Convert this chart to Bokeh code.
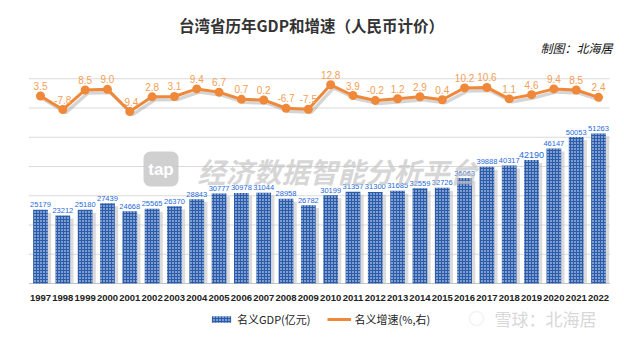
from bokeh.plotting import figure
from bokeh.models import (ColumnDataSource, Range1d, Label, Legend, LegendItem,
                          BoxAnnotation)
from bokeh.transform import dodge
from bokeh.core.properties import value
from bokeh.embed import file_html
from bokeh.resources import INLINE

# ---------------- data ----------------
years = ["1997", "1998", "1999", "2000", "2001", "2002", "2003", "2004", "2005",
         "2006", "2007", "2008", "2009", "2010", "2011", "2012", "2013", "2014",
         "2015", "2016", "2017", "2018", "2019", "2020", "2021", "2022"]
gdp = [25179, 23212, 25180, 27439, 24668, 25565, 26370, 28843, 30777, 30978,
       31044, 28958, 26782, 30199, 31357, 31300, 31685, 32559, 32726, 36063,
       39888, 40317, 42190, 46147, 50053, 51263]
growth = [3.5, -7.8, 8.5, 9.0, -9.4, 2.8, 3.1, 9.4, 6.7, 0.7, 0.2, -6.7, -7.5,
          12.8, 3.9, -0.2, 1.2, 2.9, 0.4, 10.2, 10.6, 1.1, 4.6, 9.4, 8.5, 2.4]
grid_ticks = [10000, 20000, 30000, 40000, 50000, 60000, 70000]
title_text = "台湾省历年GDP和增速（人民币计价）"
subtitle_text = "制图：北海居"
gdp_name = "名义GDP(亿元)"
growth_name = "名义增速(%,右)"
watermark_mid = "经济数据智能分析平台"
watermark_corner = "雪球：北海居"
highlight_year = "2019"

NUM = "Liberation Sans"
CJK = "Noto Sans CJK SC"

idx = list(range(len(years)))
src = ColumnDataSource(dict(
    x=idx,
    year=years,
    zero=[0] * len(years),
    gdp=gdp,
    gdp_shadow=[g - 1000 for g in gdp],
    gdp_label=[str(g) for g in gdp],
    gdp_size=["9px" if y == highlight_year else "7.5px" for y in years],
    growth=growth,
    growth_shadow=[g - 2.5 for g in growth],
    growth_label=["%.1f" % g for g in growth],
))
n = len(years)
grid_src = ColumnDataSource(dict(y=grid_ticks,
                                 x0=[-0.52] * len(grid_ticks),
                                 x1=[n - 0.5] * len(grid_ticks)))

# The plotting frame covers the whole 624x340 canvas.
# category i centred at 40 + 22.32*i px; GDP 0 at y=283 px, 10000 per 29.25 px
p = figure(width=624, height=340,
           x_range=Range1d(-40 / 22.32, (624 - 40) / 22.32),
           y_range=Range1d(-57 / 29.25 * 10000, 283 / 29.25 * 10000),
           x_axis_location=None, y_axis_location=None,
           output_backend="svg", toolbar_location=None,
           min_border=0)
p.extra_y_ranges = {"g": Range1d((99.7 - 340) / 1.203, 99.7 / 1.203)}
p.outline_line_color = None
p.background_fill_color = "white"
p.border_fill_color = "white"
p.xgrid.visible = False
p.ygrid.visible = False

# horizontal grid lines and base line
p.segment(x0="x0", x1="x1", y0="y", y1="y", source=grid_src,
          line_color="#dadada", line_width=1)
p.segment(x0=-0.52, x1=n - 0.5, y0=0, y1=0, line_color="#c4c4c4", line_width=1)

# bar shadows and bars
p.vbar(x=dodge("x", 0.15), top="gdp_shadow", width=0.66,
       source=src, fill_color="#bdbdbd", fill_alpha=0.55, line_color=None)
bars = p.vbar(x="x", top="gdp", width=0.66, source=src,
              fill_color="#2a5cab", line_color=None,
              hatch_pattern="dot", hatch_color="white", hatch_scale=3,
              hatch_weight=1)
p.text(x="x", y="gdp", text="gdp_label", source=src,
       text_font=value(NUM), text_font_size="gdp_size",
       text_color="#1f6bd8", text_align="center", text_baseline="alphabetic",
       y_offset=-5)

# year labels
p.text(x="x", y="zero", text="year", source=src,
       text_font=value(NUM), text_font_size="9.5px", text_font_style="bold",
       text_color="#222222", text_align="center", text_baseline="middle",
       y_offset=14)

# growth line with shadow
p.line(x=dodge("x", 0.13), y="growth_shadow", source=src,
       y_range_name="g", line_color="#888888", line_alpha=0.35, line_width=3.5)
line = p.line(x="x", y="growth", source=src, y_range_name="g",
              line_color="#f0883a", line_width=3)
pts = p.scatter(x="x", y="growth", source=src, y_range_name="g", size=9,
                fill_color="#f0883a", line_color=None)
p.text(x="x", y="growth", text="growth_label", source=src, y_range_name="g",
       text_font=value(NUM), text_font_size="10px",
       text_color="#f4a055", text_align="center", text_baseline="alphabetic",
       y_offset=-10)

# semi-transparent watermark over the plot
p.add_layout(BoxAnnotation(left=143, right=178, bottom=154, top=189,
                           left_units="screen", right_units="screen",
                           bottom_units="screen", top_units="screen",
                           fill_color="#c8c8c8", fill_alpha=0.85, line_color=None,
                           border_radius=7))
p.add_layout(Label(x=160.5, y=171.5, x_units="screen", y_units="screen",
                   text="tap", text_color="white", text_font=NUM,
                   text_font_style="bold", text_font_size="17px",
                   text_align="center", text_baseline="middle"))
p.add_layout(Label(x=197, y=170, x_units="screen", y_units="screen",
                   text=watermark_mid, text_color="#c4c4c4", text_alpha=0.7,
                   text_font=CJK, text_font_style="bold italic",
                   text_font_size="28px", text_align="left", text_baseline="middle"))

# titles (screen units measured from the bottom-left of the canvas)
p.add_layout(Label(x=311, y=316, x_units="screen", y_units="screen",
                   text=title_text, text_color="#333333",
                   text_font=CJK, text_font_style="bold",
                   text_font_size="15.5px", text_align="center",
                   text_baseline="middle"))
p.add_layout(Label(x=612, y=293, x_units="screen", y_units="screen",
                   text=subtitle_text, text_color="#111111",
                   text_font=CJK, text_font_style="italic",
                   text_font_size="12px", text_align="right",
                   text_baseline="middle"))

# corner watermark
p.add_layout(BoxAnnotation(left=469, right=483, bottom=15, top=29,
                           left_units="screen", right_units="screen",
                           bottom_units="screen", top_units="screen",
                           fill_alpha=0, line_color="#d8d8d8", line_width=1.5,
                           border_radius=7))
p.add_layout(Label(x=494, y=22, x_units="screen", y_units="screen",
                   text=watermark_corner, text_color="#d8d8d8",
                   text_font=CJK, text_font_size="17px", text_align="left",
                   text_baseline="middle"))

legend = Legend(items=[LegendItem(label=gdp_name, renderers=[bars]),
                       LegendItem(label=growth_name, renderers=[line, pts])],
                orientation="horizontal", location=(209, 13),
                padding=0, margin=0, spacing=16,
                glyph_width=24, glyph_height=8, label_standoff=4,
                border_line_color=None, background_fill_alpha=0,
                label_text_font=CJK, label_text_font_size="11px",
                label_text_color="#222222")
p.add_layout(legend)

open("out.html", "w").write(file_html(p, INLINE))
